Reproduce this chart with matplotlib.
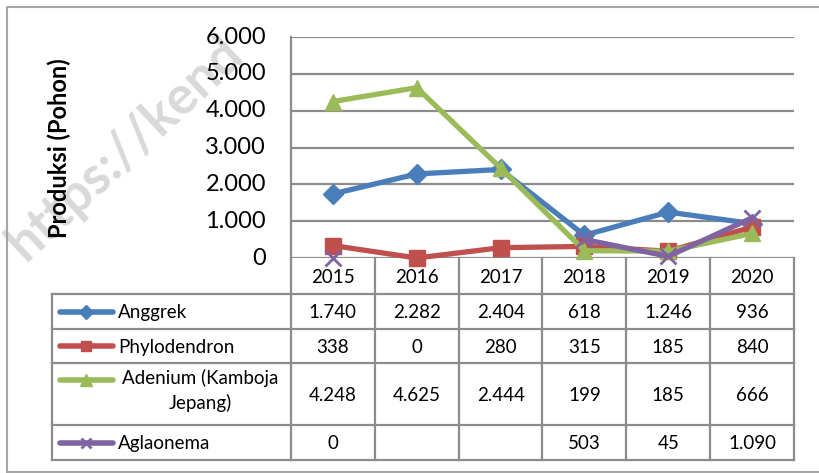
import numpy as np
import matplotlib
matplotlib.use("Agg")
import matplotlib.pyplot as plt
from matplotlib.lines import Line2D

plt.rcParams['font.family'] = ['Lato', 'DejaVu Sans']

years = ['2015', '2016', '2017', '2018', '2019', '2020']
anggrek = [1740, 2282, 2404, 618, 1246, 936]
phylodendron = [338, 0, 280, 315, 185, 840]
adenium = [4248, 4625, 2444, 199, 185, 666]
aglaonema = [0, None, None, 503, 45, 1090]

series_names = ['Anggrek', 'Phylodendron', 'Adenium (Kamboja\nJepang)', 'Aglaonema']
series_values = [anggrek, phylodendron, adenium, aglaonema]
colors = ['#4A7EBB', '#C0504D', '#9BBB59', '#8064A2']
markers = ['D', 's', '^', 'x']
msizes = [10, 11, 12, 11]

y_ticks = [0, 1000, 2000, 3000, 4000, 5000, 6000]
y_label = 'Produksi (Pohon)'


def fmt(v):
    if v is None:
        return ''
    return f"{v:,}".replace(',', '.')


W, H = 820, 473
fig = plt.figure(figsize=(W / 100, H / 100), dpi=100)

# overlay axes in pixel coordinates for table, borders, labels
ax0 = fig.add_axes([0, 0, 1, 1])
ax0.set_xlim(0, W)
ax0.set_ylim(H, 0)
ax0.axis('off')

grid_c = '#8c8c8c'
grid_lw = 1.6

# watermark
ax0.text(26, 262, 'https://kend', rotation=43, fontsize=38, fontweight='bold',
         color='#d9d9d9', ha='left', va='baseline', rotation_mode='anchor', zorder=0)

# outer border
ax0.plot([7, 7, 830], [H + 5, 7, 7], color='#a6a6a6', lw=1.5, zorder=1, clip_on=False)
ax0.plot([7, 830], [472, 472], color='#a6a6a6', lw=1.5, zorder=1, clip_on=False)

# plot area geometry (pixels)
pl, pr, pt, pb = 291, 794, 37, 258
col_w = (pr - pl) / len(years)
row_edges = [294, 329, 363, 425, 460]
leg_left = 52

# table lines
for y in row_edges:
    ax0.plot([leg_left, pr], [y, y], color=grid_c, lw=grid_lw, zorder=2)
ax0.plot([leg_left, leg_left], [row_edges[0], row_edges[-1]], color=grid_c, lw=grid_lw, zorder=2)
for i in range(len(years) + 1):
    x = pl + i * col_w
    ax0.plot([x, x], [pb, row_edges[-1]], color=grid_c, lw=grid_lw, zorder=2)

tfs = 13.5
# header
for i, yr in enumerate(years):
    ax0.text(pl + (i + 0.5) * col_w, (pb + row_edges[0]) / 2 + 1, yr, ha='center', va='center',
             fontsize=tfs, color='black', zorder=3)

# rows
for r, (name, vals, c, m, ms) in enumerate(zip(series_names, series_values, colors, markers, msizes)):
    y0, y1 = row_edges[r], row_edges[r + 1]
    yc = (y0 + y1) / 2
    for i, v in enumerate(vals):
        ax0.text(pl + (i + 0.5) * col_w, yc + 1, fmt(v), ha='center', va='center',
                 fontsize=tfs, color='black', zorder=3)
    if '\n' in name:
        ky = y0 + 17
        ax0.text(200, y0 + 6, name, ha='center', va='top', multialignment='center',
                 fontsize=tfs, color='black', zorder=3, linespacing=1.45)
    else:
        ky = yc
        ax0.text(118, yc + 1, name, ha='left', va='center', fontsize=tfs, color='black', zorder=3)
    ax0.add_line(Line2D([60, 86, 113], [ky, ky, ky], color=c, lw=4, solid_capstyle='round',
                        marker=m, markevery=[1], markersize=ms * 0.7,
                        markeredgewidth=2 if m == 'x' else 1, zorder=4))

# y tick labels & axis title
for t in y_ticks:
    yp = pb - (pb - pt) * t / y_ticks[-1]
    ax0.text(266, yp, fmt(t), ha='right', va='center', fontsize=17, color='black', zorder=3)
ax0.text(59, 148, y_label, rotation=90, ha='center', va='center', fontsize=17,
         fontweight='bold', color='black', zorder=3)

# main plot axes
ax = fig.add_axes([pl / W, (H - pb) / H, (pr - pl) / W, (pb - pt) / H])
ax.patch.set_alpha(0)
ax.set_xlim(-0.5, len(years) - 0.5)
ax.set_ylim(y_ticks[0], y_ticks[-1])
ax.set_yticks(y_ticks)
ax.set_xticks([])
ax.yaxis.grid(True, color=grid_c, lw=grid_lw)
ax.set_axisbelow(True)
ax.tick_params(axis='y', length=0, labelleft=False)
for s in ['top', 'right', 'bottom']:
    ax.spines[s].set_visible(False)
ax.spines['left'].set_color(grid_c)
ax.spines['left'].set_linewidth(grid_lw)

x = np.arange(len(years))
for vals, c, m, ms in zip(series_values, colors, markers, msizes):
    y = np.array([np.nan if v is None else v for v in vals], dtype=float)
    ax.plot(x, y, color=c, lw=3.8, marker=m, markersize=ms, markeredgewidth=2 if m == 'x' else 1,
            markeredgecolor=c, markerfacecolor=c, clip_on=False, zorder=5)

fig.savefig('out.png', dpi=100)
